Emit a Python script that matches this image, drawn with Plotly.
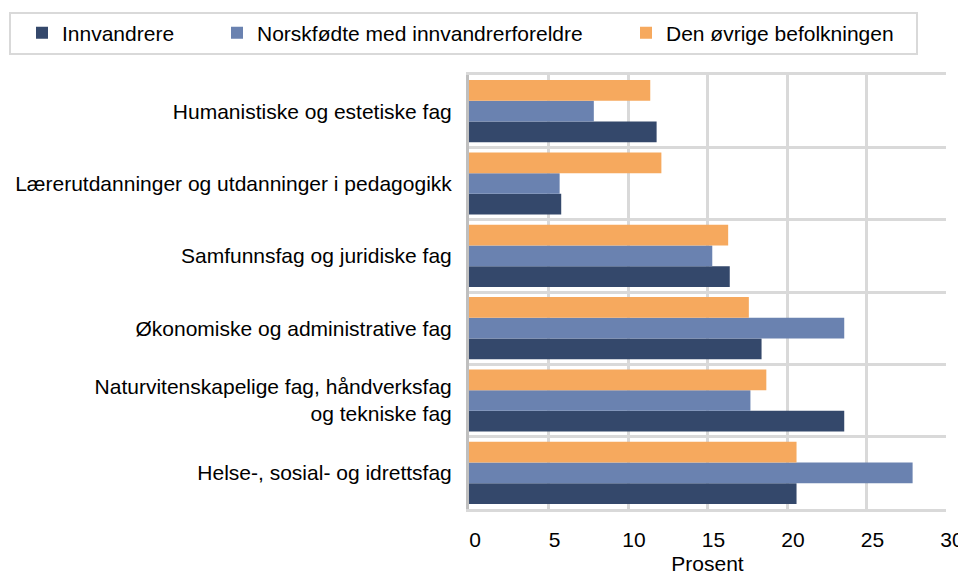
import plotly.graph_objects as go

categories = [
    "Humanistiske og estetiske fag",
    "Lærerutdanninger og utdanninger i pedagogikk",
    "Samfunnsfag og juridiske fag",
    "Økonomiske og administrative fag",
    "Naturvitenskapelige fag, håndverksfag<br>og tekniske fag",
    "Helse-, sosial- og idrettsfag",
]
innvandrere = [11.8, 5.8, 16.4, 18.4, 23.6, 20.6]
norskfodte = [7.85, 5.7, 15.3, 23.6, 17.7, 27.9]
ovrige = [11.4, 12.1, 16.3, 17.6, 18.7, 20.6]
series_names = ["Innvandrere", "Norskfødte med innvandrerforeldre", "Den øvrige befolkningen"]
x_ticks = [0, 5, 10, 15, 20, 25, 30]

colors = ["#34486B", "#6A82B0", "#F6A95E"]
FONT = "Liberation Sans, Arial, sans-serif"

# page body has an 8px margin; work in screen coordinates and subtract it
OFF = 8
W, H = 966 - OFF, 575 - OFF
L = 469 - OFF
T = 75 - OFF
R = W - (946 - OFF)
B = H - (509 - OFF)
pw = W - L - R
ph = H - T - B


def px(x):
    return (x - OFF - L) / pw


def py(y):
    return (H - B - (y - OFF)) / ph


fig = go.Figure()
legend_ids = ["legend", "legend2", "legend3"]
for name, vals, col, lg in zip(series_names, [innvandrere, norskfodte, ovrige], colors, legend_ids):
    fig.add_trace(go.Bar(
        y=categories, x=vals, orientation="h", name=name,
        marker=dict(color=col, line=dict(width=0)),
        legend=lg, showlegend=True,
    ))

leg_common = dict(orientation="h", yanchor="middle", xanchor="left",
                  bgcolor="rgba(0,0,0,0)", borderwidth=0,
                  font=dict(family=FONT, size=21, color="#000000"))
legend_px = [22, 217, 626]
fig.update_layout(
    width=W, height=H,
    margin=dict(l=L, r=R, t=T, b=B, autoexpand=False),
    paper_bgcolor="white", plot_bgcolor="white",
    showlegend=True,
    barmode="group", bargap=0.14, bargroupgap=0,
    font=dict(family=FONT, size=21, color="#000000"),
    legend=dict(x=px(legend_px[0]), y=py(33), **leg_common),
    legend2=dict(x=px(legend_px[1]), y=py(33), **leg_common),
    legend3=dict(x=px(legend_px[2]), y=py(33), **leg_common),
    xaxis=dict(
        range=[0, 30], tickvals=x_ticks, ticktext=[str(v) for v in x_ticks],
        showgrid=True, gridcolor="#D9D9D9", gridwidth=3,
        zeroline=False, showline=True, mirror=True, linecolor="#D9D9D9", linewidth=3,
        ticks="", ticklabelstandoff=10, ticklabelshift=6,
        tickfont=dict(family=FONT, size=21, color="#000000"),
        title=dict(text="Prosent", standoff=18, font=dict(family=FONT, size=21, color="#000000")),
        fixedrange=True,
    ),
    yaxis=dict(
        type="category", categoryorder="array", categoryarray=categories[::-1],
        tickson="boundaries", showgrid=True, gridcolor="#D9D9D9", gridwidth=3,
        showline=True, linecolor="#BFBFBF", linewidth=3, mirror=False,
        ticks="", ticklabelstandoff=10,
        tickfont=dict(family=FONT, size=21, color="#000000"),
        fixedrange=True,
    ),
    shapes=[dict(type="rect", xref="paper", yref="paper",
                 x0=px(10), x1=px(917), y0=py(54), y1=py(13),
                 line=dict(color="#D9D9D9", width=2), fillcolor="rgba(0,0,0,0)", layer="below")],
)

fig.write_html("out.html")
